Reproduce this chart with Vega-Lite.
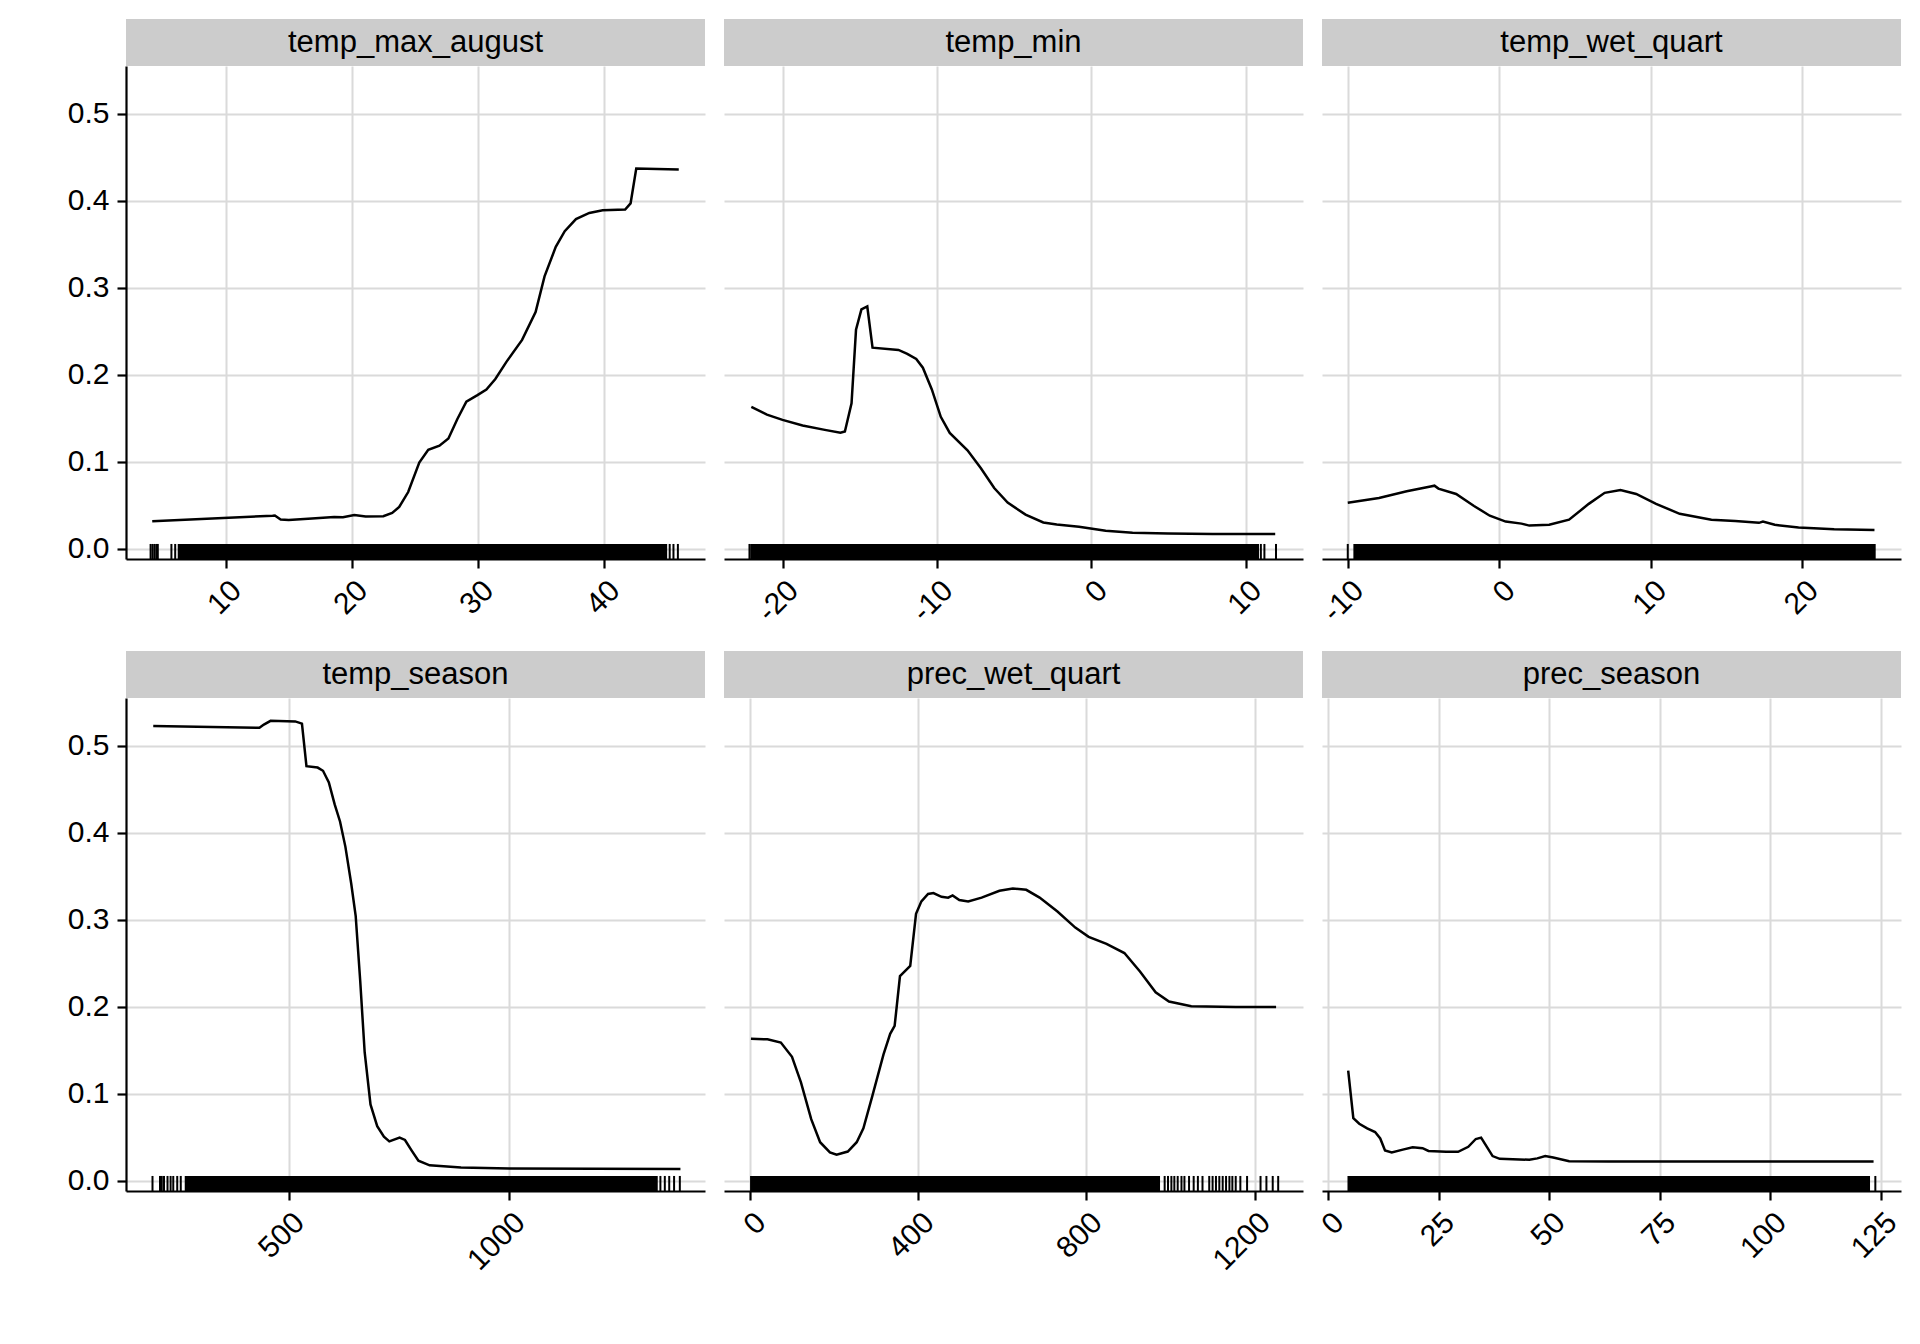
{
  "$schema": "https://vega.github.io/schema/vega-lite/v6.json",
  "background": "white",
  "padding": {"left": 67, "top": 19, "right": 5, "bottom": 5},
  "config": {
    "font": "Liberation Sans",
    "view": {"stroke": null},
    "axis": {
      "labelFont": "Liberation Sans", "labelFontSize": 30, "labelColor": "black",
      "grid": true, "gridColor": "#DADADA", "gridWidth": 2,
      "domainColor": "black", "domainWidth": 2.2,
      "tickColor": "black", "tickWidth": 2.2, "tickSize": 9,
      "labelPadding": 7, "labelFlush": false, "labelOverlap": false
    },
    "axisX": {"labelAngle": -45, "labelAlign": "right", "labelBaseline": "top", "labelExpr": "'' + datum.value"},
    "axisY": {"labelPadding": 8}
  },
  "datasets": {
    "curves": [
      {"var":"temp_max_august","x":4.18,"y":0.0314},{"var":"temp_max_august","x":13.72,"y":0.0378},{"var":"temp_max_august","x":13.9,"y":0.038},{"var":"temp_max_august","x":14.36,"y":0.0335},{"var":"temp_max_august","x":15.0,"y":0.0328},{"var":"temp_max_august","x":16.84,"y":0.0346},{"var":"temp_max_august","x":18.6,"y":0.0364},{"var":"temp_max_august","x":19.3,"y":0.036},{"var":"temp_max_august","x":20.2,"y":0.0387},{"var":"temp_max_august","x":21.1,"y":0.0369},{"var":"temp_max_august","x":22.5,"y":0.0373},{"var":"temp_max_august","x":23.2,"y":0.041},{"var":"temp_max_august","x":23.76,"y":0.0478},{"var":"temp_max_august","x":24.47,"y":0.065},{"var":"temp_max_august","x":25.35,"y":0.099},{"var":"temp_max_august","x":26.06,"y":0.1137},{"var":"temp_max_august","x":26.95,"y":0.1183},{"var":"temp_max_august","x":27.66,"y":0.1265},{"var":"temp_max_august","x":28.37,"y":0.149},{"var":"temp_max_august","x":29.08,"y":0.169},{"var":"temp_max_august","x":29.96,"y":0.1765},{"var":"temp_max_august","x":30.67,"y":0.183},{"var":"temp_max_august","x":31.38,"y":0.195},{"var":"temp_max_august","x":32.27,"y":0.215},{"var":"temp_max_august","x":33.5,"y":0.24},{"var":"temp_max_august","x":34.57,"y":0.272},{"var":"temp_max_august","x":35.28,"y":0.313},{"var":"temp_max_august","x":36.17,"y":0.347},{"var":"temp_max_august","x":36.88,"y":0.365},{"var":"temp_max_august","x":37.77,"y":0.379},{"var":"temp_max_august","x":38.83,"y":0.386},{"var":"temp_max_august","x":39.89,"y":0.389},{"var":"temp_max_august","x":41.67,"y":0.39},{"var":"temp_max_august","x":42.1,"y":0.397},{"var":"temp_max_august","x":42.55,"y":0.437},{"var":"temp_max_august","x":45.92,"y":0.436},
      {"var":"temp_min","x":-22.03,"y":0.163},{"var":"temp_min","x":-21.02,"y":0.154},{"var":"temp_min","x":-20.01,"y":0.148},{"var":"temp_min","x":-18.71,"y":0.1415},{"var":"temp_min","x":-17.27,"y":0.1365},{"var":"temp_min","x":-16.26,"y":0.1333},{"var":"temp_min","x":-15.97,"y":0.1347},{"var":"temp_min","x":-15.54,"y":0.167},{"var":"temp_min","x":-15.25,"y":0.2516},{"var":"temp_min","x":-14.9,"y":0.275},{"var":"temp_min","x":-14.52,"y":0.2784},{"var":"temp_min","x":-14.18,"y":0.231},{"var":"temp_min","x":-12.5,"y":0.2284},{"var":"temp_min","x":-11.93,"y":0.224},{"var":"temp_min","x":-11.35,"y":0.218},{"var":"temp_min","x":-10.92,"y":0.208},{"var":"temp_min","x":-10.34,"y":0.183},{"var":"temp_min","x":-9.76,"y":0.1515},{"var":"temp_min","x":-9.18,"y":0.133},{"var":"temp_min","x":-8.03,"y":0.113},{"var":"temp_min","x":-7.16,"y":0.0924},{"var":"temp_min","x":-6.3,"y":0.0696},{"var":"temp_min","x":-5.43,"y":0.0528},{"var":"temp_min","x":-4.27,"y":0.039},{"var":"temp_min","x":-3.12,"y":0.03},{"var":"temp_min","x":-2.25,"y":0.0278},{"var":"temp_min","x":-0.81,"y":0.025},{"var":"temp_min","x":0.92,"y":0.0205},{"var":"temp_min","x":2.66,"y":0.0182},{"var":"temp_min","x":4.97,"y":0.0173},{"var":"temp_min","x":7.85,"y":0.0168},{"var":"temp_min","x":11.9,"y":0.0168},
      {"var":"temp_wet_quart","x":-10.0,"y":0.0528},{"var":"temp_wet_quart","x":-7.94,"y":0.0582},{"var":"temp_wet_quart","x":-6.11,"y":0.066},{"var":"temp_wet_quart","x":-4.54,"y":0.0714},{"var":"temp_wet_quart","x":-4.28,"y":0.0723},{"var":"temp_wet_quart","x":-4.02,"y":0.069},{"var":"temp_wet_quart","x":-2.85,"y":0.0628},{"var":"temp_wet_quart","x":-1.67,"y":0.049},{"var":"temp_wet_quart","x":-0.63,"y":0.0378},{"var":"temp_wet_quart","x":0.42,"y":0.031},{"var":"temp_wet_quart","x":1.46,"y":0.0287},{"var":"temp_wet_quart","x":1.98,"y":0.0264},{"var":"temp_wet_quart","x":3.29,"y":0.0273},{"var":"temp_wet_quart","x":4.6,"y":0.0332},{"var":"temp_wet_quart","x":5.9,"y":0.0514},{"var":"temp_wet_quart","x":6.95,"y":0.0641},{"var":"temp_wet_quart","x":7.99,"y":0.0673},{"var":"temp_wet_quart","x":9.03,"y":0.0628},{"var":"temp_wet_quart","x":10.34,"y":0.0514},{"var":"temp_wet_quart","x":11.9,"y":0.04},{"var":"temp_wet_quart","x":13.99,"y":0.0332},{"var":"temp_wet_quart","x":15.56,"y":0.0318},{"var":"temp_wet_quart","x":17.13,"y":0.0296},{"var":"temp_wet_quart","x":17.39,"y":0.031},{"var":"temp_wet_quart","x":18.17,"y":0.0273},{"var":"temp_wet_quart","x":19.74,"y":0.0241},{"var":"temp_wet_quart","x":22.09,"y":0.0223},{"var":"temp_wet_quart","x":24.75,"y":0.0214},
      {"var":"temp_season","x":193.7,"y":0.5228},{"var":"temp_season","x":434.1,"y":0.5207},{"var":"temp_season","x":444.2,"y":0.5244},{"var":"temp_season","x":459.4,"y":0.5287},{"var":"temp_season","x":515.2,"y":0.5281},{"var":"temp_season","x":530.4,"y":0.5255},{"var":"temp_season","x":540.6,"y":0.4766},{"var":"temp_season","x":565.9,"y":0.475},{"var":"temp_season","x":578.1,"y":0.4713},{"var":"temp_season","x":591.3,"y":0.458},{"var":"temp_season","x":604.5,"y":0.4326},{"var":"temp_season","x":616.6,"y":0.413},{"var":"temp_season","x":628.8,"y":0.3838},{"var":"temp_season","x":642.0,"y":0.3413},{"var":"temp_season","x":652.1,"y":0.3041},{"var":"temp_season","x":662.3,"y":0.2298},{"var":"temp_season","x":672.4,"y":0.1476},{"var":"temp_season","x":685.6,"y":0.0876},{"var":"temp_season","x":700.8,"y":0.0626},{"var":"temp_season","x":716.0,"y":0.0504},{"var":"temp_season","x":728.2,"y":0.0451},{"var":"temp_season","x":751.5,"y":0.0494},{"var":"temp_season","x":763.7,"y":0.0467},{"var":"temp_season","x":778.9,"y":0.0345},{"var":"temp_season","x":794.1,"y":0.0228},{"var":"temp_season","x":819.5,"y":0.0175},{"var":"temp_season","x":890.5,"y":0.0149},{"var":"temp_season","x":1000.0,"y":0.0138},{"var":"temp_season","x":1387.4,"y":0.0133},
      {"var":"prec_wet_quart","x":2.1,"y":0.163},{"var":"prec_wet_quart","x":41.4,"y":0.1624},{"var":"prec_wet_quart","x":73.2,"y":0.1587},{"var":"prec_wet_quart","x":99.7,"y":0.1423},{"var":"prec_wet_quart","x":121.0,"y":0.113},{"var":"prec_wet_quart","x":145.4,"y":0.0706},{"var":"prec_wet_quart","x":166.6,"y":0.0441},{"var":"prec_wet_quart","x":189.9,"y":0.0324},{"var":"prec_wet_quart","x":205.8,"y":0.0297},{"var":"prec_wet_quart","x":232.4,"y":0.0334},{"var":"prec_wet_quart","x":253.6,"y":0.0441},{"var":"prec_wet_quart","x":269.5,"y":0.06},{"var":"prec_wet_quart","x":290.7,"y":0.0971},{"var":"prec_wet_quart","x":317.2,"y":0.1449},{"var":"prec_wet_quart","x":333.2,"y":0.1688},{"var":"prec_wet_quart","x":343.8,"y":0.1778},{"var":"prec_wet_quart","x":356.5,"y":0.2351},{"var":"prec_wet_quart","x":380.9,"y":0.2468},{"var":"prec_wet_quart","x":394.7,"y":0.3068},{"var":"prec_wet_quart","x":407.4,"y":0.3211},{"var":"prec_wet_quart","x":423.3,"y":0.3296},{"var":"prec_wet_quart","x":436.1,"y":0.3307},{"var":"prec_wet_quart","x":455.2,"y":0.3264},{"var":"prec_wet_quart","x":471.1,"y":0.3254},{"var":"prec_wet_quart","x":481.7,"y":0.328},{"var":"prec_wet_quart","x":497.6,"y":0.3227},{"var":"prec_wet_quart","x":518.8,"y":0.3211},{"var":"prec_wet_quart","x":550.7,"y":0.3254},{"var":"prec_wet_quart","x":593.1,"y":0.3333},{"var":"prec_wet_quart","x":624.9,"y":0.336},{"var":"prec_wet_quart","x":656.8,"y":0.3344},{"var":"prec_wet_quart","x":688.6,"y":0.3254},{"var":"prec_wet_quart","x":731.0,"y":0.3094},{"var":"prec_wet_quart","x":773.5,"y":0.2909},{"var":"prec_wet_quart","x":805.3,"y":0.2803},{"var":"prec_wet_quart","x":847.7,"y":0.2723},{"var":"prec_wet_quart","x":890.2,"y":0.2617},{"var":"prec_wet_quart","x":927.3,"y":0.2404},{"var":"prec_wet_quart","x":964.5,"y":0.2166},{"var":"prec_wet_quart","x":996.3,"y":0.2059},{"var":"prec_wet_quart","x":1049.3,"y":0.2006},{"var":"prec_wet_quart","x":1155.4,"y":0.1996},{"var":"prec_wet_quart","x":1251.0,"y":0.1996},
      {"var":"prec_season","x":4.56,"y":0.1265},{"var":"prec_season","x":5.72,"y":0.0717},{"var":"prec_season","x":7.06,"y":0.0654},{"var":"prec_season","x":8.85,"y":0.06},{"var":"prec_season","x":10.64,"y":0.0558},{"var":"prec_season","x":11.8,"y":0.0484},{"var":"prec_season","x":12.88,"y":0.0345},{"var":"prec_season","x":14.4,"y":0.0324},{"var":"prec_season","x":16.9,"y":0.0356},{"var":"prec_season","x":19.13,"y":0.0383},{"var":"prec_season","x":21.37,"y":0.0372},{"var":"prec_season","x":22.7,"y":0.034},{"var":"prec_season","x":26.7,"y":0.033},{"var":"prec_season","x":29.4,"y":0.033},{"var":"prec_season","x":31.7,"y":0.0388},{"var":"prec_season","x":33.4,"y":0.0478},{"var":"prec_season","x":34.6,"y":0.0494},{"var":"prec_season","x":35.9,"y":0.0388},{"var":"prec_season","x":37.2,"y":0.0282},{"var":"prec_season","x":38.8,"y":0.025},{"var":"prec_season","x":45.5,"y":0.0239},{"var":"prec_season","x":47.3,"y":0.0255},{"var":"prec_season","x":49.1,"y":0.0282},{"var":"prec_season","x":50.9,"y":0.0266},{"var":"prec_season","x":54.5,"y":0.0223},{"var":"prec_season","x":63.4,"y":0.0218},{"var":"prec_season","x":123.3,"y":0.0218}
    ],
    "band": [
      {"var":"temp_max_august","x":6.2,"x2":45.0},
      {"var":"temp_min","x":-22.1,"x2":10.85},
      {"var":"temp_wet_quart","x":-9.63,"x2":24.83},
      {"var":"temp_season","x":265,"x2":1336},
      {"var":"prec_wet_quart","x":0,"x2":975},
      {"var":"prec_season","x":4.4,"x2":122.5}
    ],
    "rug": [
      {"var":"temp_max_august","x":4.05},{"var":"temp_max_august","x":4.2},{"var":"temp_max_august","x":4.35},{"var":"temp_max_august","x":4.5},{"var":"temp_max_august","x":4.62},{"var":"temp_max_august","x":5.7},{"var":"temp_max_august","x":6.0},{"var":"temp_max_august","x":45.2},{"var":"temp_max_august","x":45.5},{"var":"temp_max_august","x":45.85},
      {"var":"temp_min","x":-22.15},{"var":"temp_min","x":10.97},{"var":"temp_min","x":11.2},{"var":"temp_min","x":11.95},
      {"var":"temp_wet_quart","x":-10.0},
      {"var":"temp_season","x":192},{"var":"temp_season","x":209},{"var":"temp_season","x":213},{"var":"temp_season","x":218},{"var":"temp_season","x":226},{"var":"temp_season","x":233},{"var":"temp_season","x":239},{"var":"temp_season","x":248},{"var":"temp_season","x":256},{"var":"temp_season","x":1342},{"var":"temp_season","x":1352},{"var":"temp_season","x":1362},{"var":"temp_season","x":1373},{"var":"temp_season","x":1386},
      {"var":"prec_wet_quart","x":986},{"var":"prec_wet_quart","x":994},{"var":"prec_wet_quart","x":1002},{"var":"prec_wet_quart","x":1009},{"var":"prec_wet_quart","x":1017},{"var":"prec_wet_quart","x":1026},{"var":"prec_wet_quart","x":1033},{"var":"prec_wet_quart","x":1044},{"var":"prec_wet_quart","x":1055},{"var":"prec_wet_quart","x":1065},{"var":"prec_wet_quart","x":1076},{"var":"prec_wet_quart","x":1092},{"var":"prec_wet_quart","x":1100},{"var":"prec_wet_quart","x":1108},{"var":"prec_wet_quart","x":1116},{"var":"prec_wet_quart","x":1124},{"var":"prec_wet_quart","x":1132},{"var":"prec_wet_quart","x":1140},{"var":"prec_wet_quart","x":1147},{"var":"prec_wet_quart","x":1155},{"var":"prec_wet_quart","x":1166},{"var":"prec_wet_quart","x":1182},{"var":"prec_wet_quart","x":1214},{"var":"prec_wet_quart","x":1228},{"var":"prec_wet_quart","x":1243},{"var":"prec_wet_quart","x":1256},
      {"var":"prec_season","x":123.7}
    ]
  },
  "columns": 3,
  "spacing": {"row": 24, "column": -40},
  "concat": [
    {"spacing": 0, "bounds": "flush", "vconcat": [
      {"width": 579, "height": 47, "view": {"fill": "#CCCCCC", "stroke": null}, "data": {"values": [{"var": "temp_max_august"}]}, "mark": {"type": "text", "fontSize": 31, "color": "black", "baseline": "middle"}, "encoding": {"text": {"field": "var", "type": "nominal"}}},
      {"width": 579, "height": 493,
       "encoding": {"x": {"field": "x", "type": "quantitative", "scale": {"domain": [2.1, 48.0], "nice": false, "zero": false}, "axis": {"values": [10, 20, 30, 40], "title": null}}},
       "layer": [
         {"data": {"name": "band"}, "transform": [{"filter": "datum.var === 'temp_max_august'"}], "mark": {"type": "rect", "color": "black"}, "encoding": {"x2": {"field": "x2"}, "y": {"datum": -0.012, "type": "quantitative", "scale": {"domain": [-0.012, 0.555], "nice": false, "zero": false}, "axis": {"values": [0, 0.1, 0.2, 0.3, 0.4, 0.5], "format": ".1f", "title": null}}, "y2": {"datum": 0.0053}}},
         {"data": {"name": "rug"}, "transform": [{"filter": "datum.var === 'temp_max_august'"}], "mark": {"type": "rule", "color": "black", "strokeWidth": 2}, "encoding": {"y": {"datum": -0.012, "type": "quantitative", "scale": {"domain": [-0.012, 0.555], "nice": false, "zero": false}, "axis": {"values": [0, 0.1, 0.2, 0.3, 0.4, 0.5], "format": ".1f", "title": null}}, "y2": {"datum": 0.0053}}},
         {"data": {"name": "curves"}, "transform": [{"filter": "datum.var === 'temp_max_august'"}], "mark": {"type": "line", "color": "black", "strokeWidth": 2.5}, "encoding": {"y": {"field": "y", "type": "quantitative", "scale": {"domain": [-0.012, 0.555], "nice": false, "zero": false}, "axis": {"values": [0, 0.1, 0.2, 0.3, 0.4, 0.5], "format": ".1f", "title": null}}}}
       ]}
    ]},
    {"spacing": 0, "bounds": "flush", "vconcat": [
      {"width": 579, "height": 47, "view": {"fill": "#CCCCCC", "stroke": null}, "data": {"values": [{"var": "temp_min"}]}, "mark": {"type": "text", "fontSize": 31, "color": "black", "baseline": "middle"}, "encoding": {"text": {"field": "var", "type": "nominal"}}},
      {"width": 579, "height": 493,
       "encoding": {"x": {"field": "x", "type": "quantitative", "scale": {"domain": [-23.8, 13.7], "nice": false, "zero": false}, "axis": {"values": [-20, -10, 0, 10], "title": null}}},
       "layer": [
         {"data": {"name": "band"}, "transform": [{"filter": "datum.var === 'temp_min'"}], "mark": {"type": "rect", "color": "black"}, "encoding": {"x2": {"field": "x2"}, "y": {"datum": -0.012, "type": "quantitative", "scale": {"domain": [-0.012, 0.555], "nice": false, "zero": false}, "axis": {"values": [0, 0.1, 0.2, 0.3, 0.4, 0.5], "format": ".1f", "title": null, "labelOpacity": 0, "tickOpacity": 0, "domain": false}}, "y2": {"datum": 0.0053}}},
         {"data": {"name": "rug"}, "transform": [{"filter": "datum.var === 'temp_min'"}], "mark": {"type": "rule", "color": "black", "strokeWidth": 2}, "encoding": {"y": {"datum": -0.012, "type": "quantitative", "scale": {"domain": [-0.012, 0.555], "nice": false, "zero": false}, "axis": {"values": [0, 0.1, 0.2, 0.3, 0.4, 0.5], "format": ".1f", "title": null, "labelOpacity": 0, "tickOpacity": 0, "domain": false}}, "y2": {"datum": 0.0053}}},
         {"data": {"name": "curves"}, "transform": [{"filter": "datum.var === 'temp_min'"}], "mark": {"type": "line", "color": "black", "strokeWidth": 2.5}, "encoding": {"y": {"field": "y", "type": "quantitative", "scale": {"domain": [-0.012, 0.555], "nice": false, "zero": false}, "axis": {"values": [0, 0.1, 0.2, 0.3, 0.4, 0.5], "format": ".1f", "title": null, "labelOpacity": 0, "tickOpacity": 0, "domain": false}}}}
       ]}
    ]},
    {"spacing": 0, "bounds": "flush", "vconcat": [
      {"width": 579, "height": 47, "view": {"fill": "#CCCCCC", "stroke": null}, "data": {"values": [{"var": "temp_wet_quart"}]}, "mark": {"type": "text", "fontSize": 31, "color": "black", "baseline": "middle"}, "encoding": {"text": {"field": "var", "type": "nominal"}}},
      {"width": 579, "height": 493,
       "encoding": {"x": {"field": "x", "type": "quantitative", "scale": {"domain": [-11.7, 26.5], "nice": false, "zero": false}, "axis": {"values": [-10, 0, 10, 20], "title": null}}},
       "layer": [
         {"data": {"name": "band"}, "transform": [{"filter": "datum.var === 'temp_wet_quart'"}], "mark": {"type": "rect", "color": "black"}, "encoding": {"x2": {"field": "x2"}, "y": {"datum": -0.012, "type": "quantitative", "scale": {"domain": [-0.012, 0.555], "nice": false, "zero": false}, "axis": {"values": [0, 0.1, 0.2, 0.3, 0.4, 0.5], "format": ".1f", "title": null, "labelOpacity": 0, "tickOpacity": 0, "domain": false}}, "y2": {"datum": 0.0053}}},
         {"data": {"name": "rug"}, "transform": [{"filter": "datum.var === 'temp_wet_quart'"}], "mark": {"type": "rule", "color": "black", "strokeWidth": 2}, "encoding": {"y": {"datum": -0.012, "type": "quantitative", "scale": {"domain": [-0.012, 0.555], "nice": false, "zero": false}, "axis": {"values": [0, 0.1, 0.2, 0.3, 0.4, 0.5], "format": ".1f", "title": null, "labelOpacity": 0, "tickOpacity": 0, "domain": false}}, "y2": {"datum": 0.0053}}},
         {"data": {"name": "curves"}, "transform": [{"filter": "datum.var === 'temp_wet_quart'"}], "mark": {"type": "line", "color": "black", "strokeWidth": 2.5}, "encoding": {"y": {"field": "y", "type": "quantitative", "scale": {"domain": [-0.012, 0.555], "nice": false, "zero": false}, "axis": {"values": [0, 0.1, 0.2, 0.3, 0.4, 0.5], "format": ".1f", "title": null, "labelOpacity": 0, "tickOpacity": 0, "domain": false}}}}
       ]}
    ]},
    {"spacing": 0, "bounds": "flush", "vconcat": [
      {"width": 579, "height": 47, "view": {"fill": "#CCCCCC", "stroke": null}, "data": {"values": [{"var": "temp_season"}]}, "mark": {"type": "text", "fontSize": 31, "color": "black", "baseline": "middle"}, "encoding": {"text": {"field": "var", "type": "nominal"}}},
      {"width": 579, "height": 493,
       "encoding": {"x": {"field": "x", "type": "quantitative", "scale": {"domain": [132, 1443], "nice": false, "zero": false}, "axis": {"values": [500, 1000], "title": null}}},
       "layer": [
         {"data": {"name": "band"}, "transform": [{"filter": "datum.var === 'temp_season'"}], "mark": {"type": "rect", "color": "black"}, "encoding": {"x2": {"field": "x2"}, "y": {"datum": -0.012, "type": "quantitative", "scale": {"domain": [-0.012, 0.555], "nice": false, "zero": false}, "axis": {"values": [0, 0.1, 0.2, 0.3, 0.4, 0.5], "format": ".1f", "title": null}}, "y2": {"datum": 0.0053}}},
         {"data": {"name": "rug"}, "transform": [{"filter": "datum.var === 'temp_season'"}], "mark": {"type": "rule", "color": "black", "strokeWidth": 2}, "encoding": {"y": {"datum": -0.012, "type": "quantitative", "scale": {"domain": [-0.012, 0.555], "nice": false, "zero": false}, "axis": {"values": [0, 0.1, 0.2, 0.3, 0.4, 0.5], "format": ".1f", "title": null}}, "y2": {"datum": 0.0053}}},
         {"data": {"name": "curves"}, "transform": [{"filter": "datum.var === 'temp_season'"}], "mark": {"type": "line", "color": "black", "strokeWidth": 2.5}, "encoding": {"y": {"field": "y", "type": "quantitative", "scale": {"domain": [-0.012, 0.555], "nice": false, "zero": false}, "axis": {"values": [0, 0.1, 0.2, 0.3, 0.4, 0.5], "format": ".1f", "title": null}}}}
       ]}
    ]},
    {"spacing": 0, "bounds": "flush", "vconcat": [
      {"width": 579, "height": 47, "view": {"fill": "#CCCCCC", "stroke": null}, "data": {"values": [{"var": "prec_wet_quart"}]}, "mark": {"type": "text", "fontSize": 31, "color": "black", "baseline": "middle"}, "encoding": {"text": {"field": "var", "type": "nominal"}}},
      {"width": 579, "height": 493,
       "encoding": {"x": {"field": "x", "type": "quantitative", "scale": {"domain": [-62, 1315], "nice": false, "zero": false}, "axis": {"values": [0, 400, 800, 1200], "title": null}}},
       "layer": [
         {"data": {"name": "band"}, "transform": [{"filter": "datum.var === 'prec_wet_quart'"}], "mark": {"type": "rect", "color": "black"}, "encoding": {"x2": {"field": "x2"}, "y": {"datum": -0.012, "type": "quantitative", "scale": {"domain": [-0.012, 0.555], "nice": false, "zero": false}, "axis": {"values": [0, 0.1, 0.2, 0.3, 0.4, 0.5], "format": ".1f", "title": null, "labelOpacity": 0, "tickOpacity": 0, "domain": false}}, "y2": {"datum": 0.0053}}},
         {"data": {"name": "rug"}, "transform": [{"filter": "datum.var === 'prec_wet_quart'"}], "mark": {"type": "rule", "color": "black", "strokeWidth": 2}, "encoding": {"y": {"datum": -0.012, "type": "quantitative", "scale": {"domain": [-0.012, 0.555], "nice": false, "zero": false}, "axis": {"values": [0, 0.1, 0.2, 0.3, 0.4, 0.5], "format": ".1f", "title": null, "labelOpacity": 0, "tickOpacity": 0, "domain": false}}, "y2": {"datum": 0.0053}}},
         {"data": {"name": "curves"}, "transform": [{"filter": "datum.var === 'prec_wet_quart'"}], "mark": {"type": "line", "color": "black", "strokeWidth": 2.5}, "encoding": {"y": {"field": "y", "type": "quantitative", "scale": {"domain": [-0.012, 0.555], "nice": false, "zero": false}, "axis": {"values": [0, 0.1, 0.2, 0.3, 0.4, 0.5], "format": ".1f", "title": null, "labelOpacity": 0, "tickOpacity": 0, "domain": false}}}}
       ]}
    ]},
    {"spacing": 0, "bounds": "flush", "vconcat": [
      {"width": 579, "height": 47, "view": {"fill": "#CCCCCC", "stroke": null}, "data": {"values": [{"var": "prec_season"}]}, "mark": {"type": "text", "fontSize": 31, "color": "black", "baseline": "middle"}, "encoding": {"text": {"field": "var", "type": "nominal"}}},
      {"width": 579, "height": 493,
       "encoding": {"x": {"field": "x", "type": "quantitative", "scale": {"domain": [-1.36, 129.5], "nice": false, "zero": false}, "axis": {"values": [0, 25, 50, 75, 100, 125], "title": null}}},
       "layer": [
         {"data": {"name": "band"}, "transform": [{"filter": "datum.var === 'prec_season'"}], "mark": {"type": "rect", "color": "black"}, "encoding": {"x2": {"field": "x2"}, "y": {"datum": -0.012, "type": "quantitative", "scale": {"domain": [-0.012, 0.555], "nice": false, "zero": false}, "axis": {"values": [0, 0.1, 0.2, 0.3, 0.4, 0.5], "format": ".1f", "title": null, "labelOpacity": 0, "tickOpacity": 0, "domain": false}}, "y2": {"datum": 0.0053}}},
         {"data": {"name": "rug"}, "transform": [{"filter": "datum.var === 'prec_season'"}], "mark": {"type": "rule", "color": "black", "strokeWidth": 2}, "encoding": {"y": {"datum": -0.012, "type": "quantitative", "scale": {"domain": [-0.012, 0.555], "nice": false, "zero": false}, "axis": {"values": [0, 0.1, 0.2, 0.3, 0.4, 0.5], "format": ".1f", "title": null, "labelOpacity": 0, "tickOpacity": 0, "domain": false}}, "y2": {"datum": 0.0053}}},
         {"data": {"name": "curves"}, "transform": [{"filter": "datum.var === 'prec_season'"}], "mark": {"type": "line", "color": "black", "strokeWidth": 2.5}, "encoding": {"y": {"field": "y", "type": "quantitative", "scale": {"domain": [-0.012, 0.555], "nice": false, "zero": false}, "axis": {"values": [0, 0.1, 0.2, 0.3, 0.4, 0.5], "format": ".1f", "title": null, "labelOpacity": 0, "tickOpacity": 0, "domain": false}}}}
       ]}
    ]}
  ]
}
